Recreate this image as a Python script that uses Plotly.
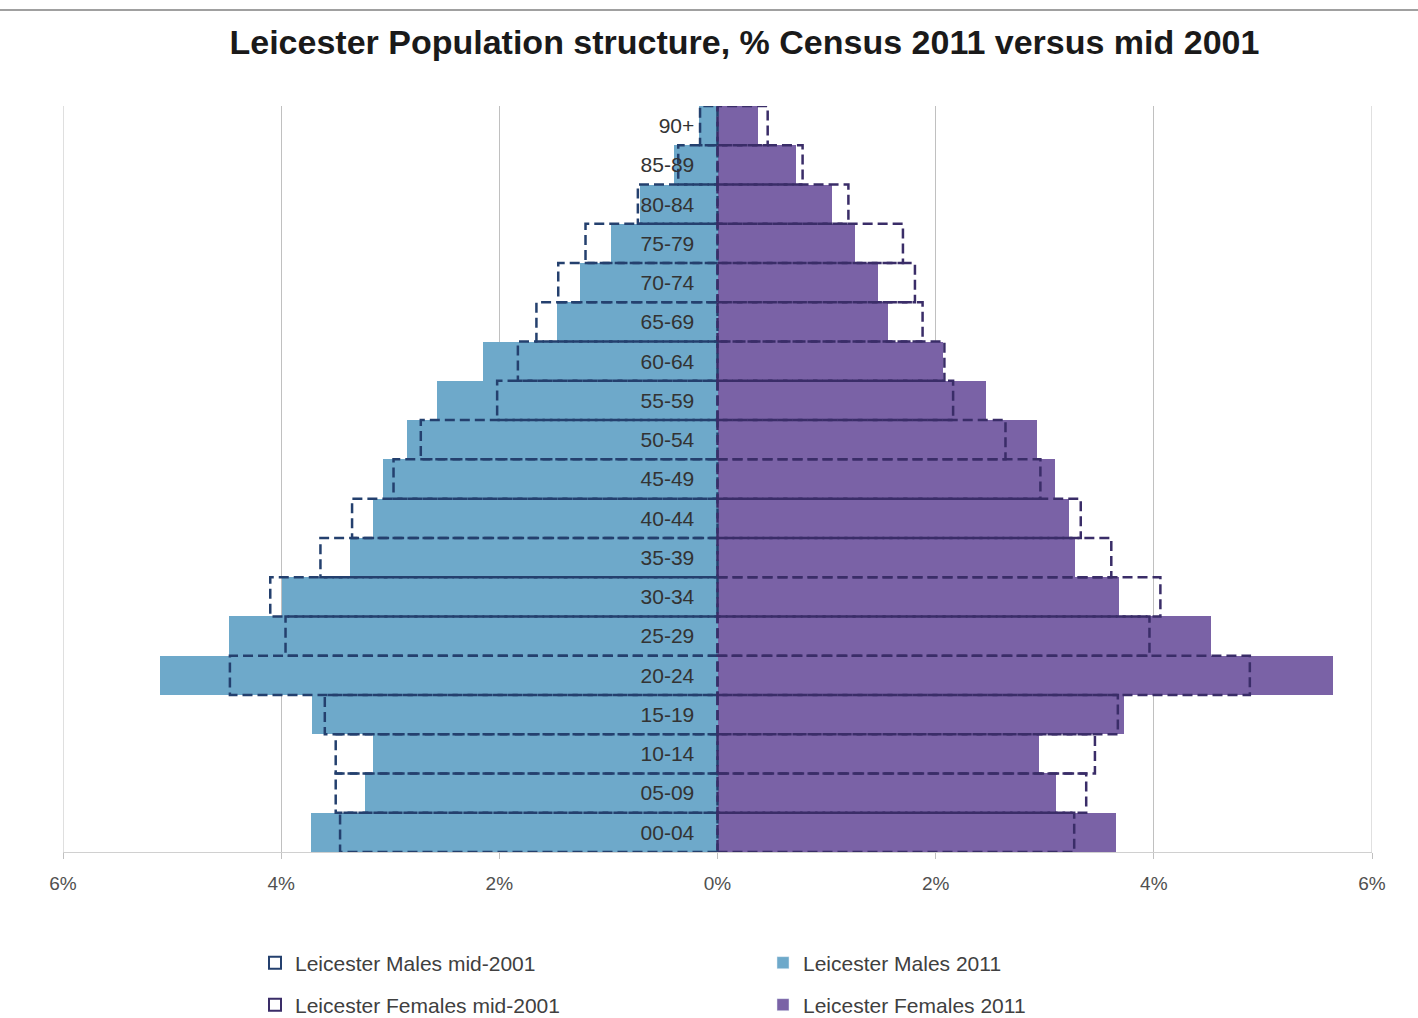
import plotly.graph_objects as go

ages = ["00-04", "05-09", "10-14", "15-19", "20-24", "25-29", "30-34", "35-39", "40-44",
        "45-49", "50-54", "55-59", "60-64", "65-69", "70-74", "75-79", "80-84", "85-89", "90+"]

males_2011 = [3.73, 3.23, 3.16, 3.72, 5.11, 4.48, 3.99, 3.37, 3.16, 3.07, 2.85, 2.57, 2.15,
              1.47, 1.26, 0.98, 0.71, 0.40, 0.17]
males_2001 = [3.46, 3.50, 3.50, 3.60, 4.47, 3.96, 4.10, 3.64, 3.35, 2.97, 2.72, 2.02, 1.83,
              1.66, 1.46, 1.21, 0.73, 0.36, 0.16]
females_2011 = [3.65, 3.10, 2.95, 3.73, 5.64, 4.52, 3.68, 3.28, 3.22, 3.09, 2.93, 2.46, 2.07,
                1.56, 1.47, 1.26, 1.05, 0.72, 0.37]
females_2001 = [3.27, 3.38, 3.46, 3.67, 4.88, 3.96, 4.06, 3.61, 3.33, 2.96, 2.64, 2.16, 2.08,
                1.88, 1.81, 1.70, 1.20, 0.78, 0.46]

x_tickvals = [-6, -4, -2, 0, 2, 4, 6]
x_ticktext = ["6%", "4%", "2%", "0%", "2%", "4%", "6%"]

MALE_FILL = "#6ea9ca"
FEMALE_FILL = "#7a62a6"
MALE_DASH = "#24406e"
FEMALE_DASH = "#3a2d68"
GRID = "#c0c0c0"
FONT = "Liberation Sans, Arial, sans-serif"

ypos = list(range(len(ages)))


def outline(values, sign):
    xs, ys = [], []
    for i, v in zip(ypos, values):
        xv = sign * v
        xs += [0, xv, xv, 0, 0, None]
        ys += [i - 0.5, i - 0.5, i + 0.5, i + 0.5, i - 0.5, None]
    return xs, ys


fig = go.Figure()

fig.add_trace(go.Bar(y=ypos, x=[-v for v in males_2011], orientation="h", width=1,
                     marker=dict(color=MALE_FILL, line=dict(width=0)),
                     showlegend=False, hoverinfo="skip"))
fig.add_trace(go.Bar(y=ypos, x=females_2011, orientation="h", width=1,
                     marker=dict(color=FEMALE_FILL, line=dict(width=0)),
                     showlegend=False, hoverinfo="skip"))

mx, my = outline(males_2001, -1)
fig.add_trace(go.Scatter(x=mx, y=my, mode="lines", showlegend=False, hoverinfo="skip",
                         line=dict(color=MALE_DASH, width=2.5, dash="10px,5px")))
fx, fy = outline(females_2001, 1)
fig.add_trace(go.Scatter(x=fx, y=fy, mode="lines", showlegend=False, hoverinfo="skip",
                         line=dict(color=FEMALE_DASH, width=2.5, dash="10px,5px")))

# legend entries
fig.add_trace(go.Bar(x=[None], y=[None], orientation="h", name="Leicester Males mid-2001",
                     marker=dict(color="white", line=dict(color=MALE_DASH, width=2)),
                     legend="legend", legendrank=1))
fig.add_trace(go.Bar(x=[None], y=[None], orientation="h", name="Leicester Males 2011",
                     marker=dict(color=MALE_FILL), legend="legend", legendrank=2))
fig.add_trace(go.Bar(x=[None], y=[None], orientation="h", name="Leicester Females mid-2001",
                     marker=dict(color="white", line=dict(color=FEMALE_DASH, width=2)),
                     legend="legend2", legendrank=1))
fig.add_trace(go.Bar(x=[None], y=[None], orientation="h", name="Leicester Females 2011",
                     marker=dict(color=FEMALE_FILL), legend="legend2", legendrank=2))

legend_common = dict(orientation="h", xanchor="left", yanchor="middle",
                     xref="container", yref="container",
                     font=dict(family=FONT, size=21, color="#404040"),
                     entrywidth=463, entrywidthmode="pixels", itemwidth=30,
                     bgcolor="rgba(0,0,0,0)", traceorder="normal")

edge_lines = [dict(type="line", xref="x", yref="paper", x0=v, x1=v, y0=0, y1=1,
                   line=dict(color=GRID, width=1), layer="below")
              for v in (x_tickvals[0], x_tickvals[-1])]

fig.update_layout(
    width=1418, height=1018,
    margin=dict(l=63, r=46, t=106, b=166),
    paper_bgcolor="white", plot_bgcolor="white",
    barmode="overlay", bargap=0,
    title=dict(text="<b>Leicester Population structure, % Census 2011 versus mid 2001</b>",
               x=0.525, xanchor="center", xref="container",
               y=1 - 42 / 1018, yanchor="middle", yref="container",
               font=dict(family=FONT, size=34, color="#1a1a1a")),
    xaxis=dict(range=[-6, 6], tickvals=x_tickvals, ticktext=x_ticktext,
               showgrid=True, gridcolor=GRID, gridwidth=1, zeroline=False,
               showline=True, linecolor="#d0d0d0", linewidth=1,
               ticks="outside", ticklen=6, tickcolor=GRID, ticklabelstandoff=8,
               tickfont=dict(family=FONT, size=19, color="#505050"), fixedrange=True),
    yaxis=dict(range=[-0.5, 18.5], tickvals=ypos, ticktext=ages,
               anchor="free", position=0.5, side="left",
               showgrid=False, zeroline=False, showline=False,
               ticks="outside", ticklen=19, tickcolor="rgba(0,0,0,0)",
               tickfont=dict(family=FONT, size=21, color="#333333"),
               layer="above traces", fixedrange=True),
    legend=dict(x=255 / 1418, y=1 - 963 / 1018, **legend_common),
    legend2=dict(x=255 / 1418, y=1 - 1005 / 1018, **legend_common),
    shapes=[dict(type="line", xref="paper", yref="paper",
                 x0=-63 / 1309, x1=1355 / 1309, y0=(852 - 10) / 746, y1=(852 - 10) / 746,
                 line=dict(color="#a0a0a0", width=2))] + edge_lines,
)

fig.write_html("out.html")
